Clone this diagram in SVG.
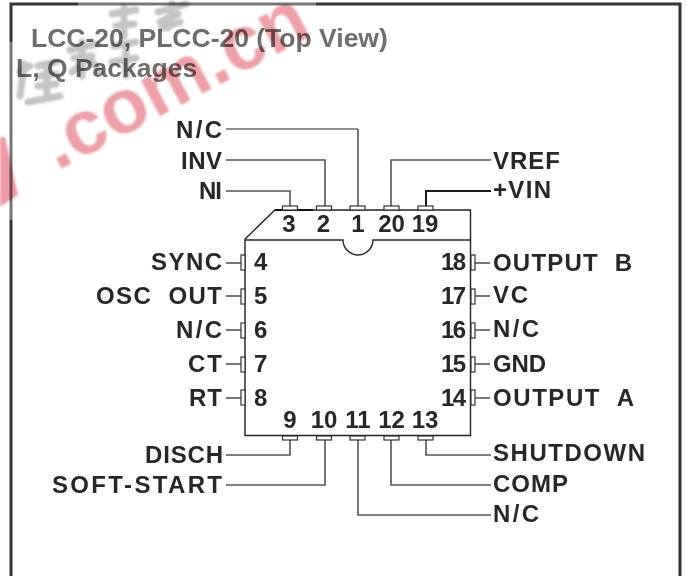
<svg xmlns="http://www.w3.org/2000/svg" width="686" height="576" viewBox="0 0 686 576">
<defs><filter id="soft" x="-10%" y="-10%" width="120%" height="120%"><feGaussianBlur stdDeviation="0.8"/></filter></defs>
<style>
text{font-family:"Liberation Sans",Arial,sans-serif;font-weight:700;fill:#2a2627;white-space:pre}
.l{font-size:24px}
.n{font-size:24px}
.t{font-size:26.5px;fill:#6f6c6c}
.w{fill:none;stroke:#555;stroke-width:1.6}
.p{fill:#fff;stroke:#333;stroke-width:1.2}
.s{fill:none;stroke:#222;stroke-width:1.4}
.e{text-anchor:end}
.m{text-anchor:middle}
.g{fill:none;stroke:#c4c4c4;stroke-width:7;stroke-linecap:round;stroke-linejoin:round}
.wm{mix-blend-mode:multiply}
.mark{font-size:77px;fill:#eea0a8}
</style>
<rect width="686" height="576" fill="#fff"/>
<path d="M11 220V42" fill="none" stroke="#777" stroke-width="3"/>
<path d="M78 4H316" fill="none" stroke="#777" stroke-width="3"/>
<path d="M11 42V4H78M316 4H680V576M11 220V576" fill="none" stroke="#333" stroke-width="3"/>
<text class="t" x="31" y="47">LCC-20, PLCC-20 (Top View)</text>
<text class="t" x="16" y="77">L, Q Packages</text>
<g id="watermark" class="wm">
<g filter="url(#soft)">
<text class="mark" x="57" y="171" transform="rotate(-28 57 171)">.com.cn</text>
<path d="M0 137L5 137L18 195L0 207Z" fill="#ee9aa4"/>
<g class="g">
<path d="M20 72L30 66M24 64L20 96M38 66L56 62M40 76L56 74M38 86L56 84M47 64V98M28 102L60 96"/>
<path d="M70 50L96 44M74 58L92 56M82 42V76M72 72L84 62M92 62L100 72"/>
<path d="M112 14L136 10M116 26L134 24M124 8V36M114 46L136 42M126 44V76M112 62L136 58"/>
<path d="M158 12L186 4M160 22L178 14M172 4L168 28M162 28L180 22"/>
</g>
</g>
</g>
<g id="connectors">
<path class="w" style="stroke:#222;stroke-width:1.2" d="M226 129H358"/>
<path class="w" d="M358 129V206"/>
<path class="w" d="M226 160H325V206"/>
<path class="w" d="M226 191H290V206"/>
<path class="w" d="M491 160H391V206"/>
<path class="w" d="M491 191H426V206" style="stroke:#1a1a1a;stroke-width:2"/>
<path class="w" d="M226 263H241"/><path class="w" d="M226 296H241"/><path class="w" d="M226 330H241"/><path class="w" d="M226 364H241"/><path class="w" d="M226 398H241"/>
<path class="w" d="M475 263H490"/><path class="w" d="M475 296H490"/><path class="w" d="M475 330H490"/><path class="w" d="M475 364H490"/><path class="w" d="M475 398H490"/>
<path class="w" d="M226 455H290V440"/>
<path class="w" d="M226 485H325V440"/>
<path class="w" d="M491 515H358V440"/>
<path class="w" d="M491 485H391V440"/>
<path class="w" d="M491 455H426V440"/>
</g>
<g id="chip">
<path class="s" d="M275 210H470.500V435.500H245V239Z"/>
<path d="M275 210H313" fill="none" stroke="#111" stroke-width="2"/>
<path class="s" d="M245 240H343A15 15 0 0 0 373 240H470"/>
</g>
<g id="pin-3"><rect class="p" x="282.500" y="206" width="15" height="4"/><text class="n m" x="289" y="232">3</text></g>
<g id="pin-2"><rect class="p" x="316.500" y="206" width="15" height="4"/><text class="n m" x="323.500" y="232">2</text></g>
<g id="pin-1"><rect class="p" x="350" y="206" width="15" height="4"/><text class="n m" x="358" y="232">1</text></g>
<g id="pin-20"><rect class="p" x="384" y="206" width="15" height="4"/><text class="n m" x="391.500" y="232">20</text></g>
<g id="pin-19"><rect class="p" x="418" y="206" width="15" height="4"/><text class="n m" x="425" y="232">19</text></g>
<g id="pin-4"><rect class="p" x="241" y="255" width="4" height="15"/><text class="n" x="254" y="270">4</text><text class="l e" x="222" y="270" textLength="71">SYNC</text></g>
<g id="pin-5"><rect class="p" x="241" y="289" width="4" height="15"/><text class="n" x="254" y="304">5</text><text class="l e" x="222" y="304" textLength="126" xml:space="preserve">OSC  OUT</text></g>
<g id="pin-6"><rect class="p" x="241" y="323" width="4" height="15"/><text class="n" x="254" y="338">6</text><text class="l e" x="222" y="338" textLength="46">N/C</text></g>
<g id="pin-7"><rect class="p" x="241" y="357" width="4" height="15"/><text class="n" x="254" y="372">7</text><text class="l e" x="222" y="372" textLength="34">CT</text></g>
<g id="pin-8"><rect class="p" x="241" y="390" width="4" height="15"/><text class="n" x="254" y="406">8</text><text class="l e" x="222" y="406" textLength="33">RT</text></g>
<g id="pin-18"><rect class="p" x="471" y="255" width="4" height="15"/><text class="n e" x="466" y="270" textLength="25">18</text><text class="l" x="493" y="271" textLength="139" xml:space="preserve">OUTPUT  B</text></g>
<g id="pin-17"><rect class="p" x="471" y="289" width="4" height="15"/><text class="n e" x="466" y="304" textLength="25">17</text><text class="l" x="493" y="303" textLength="35">VC</text></g>
<g id="pin-16"><rect class="p" x="471" y="323" width="4" height="15"/><text class="n e" x="466" y="338" textLength="25">16</text><text class="l" x="493" y="337" textLength="46">N/C</text></g>
<g id="pin-15"><rect class="p" x="471" y="357" width="4" height="15"/><text class="n e" x="466" y="372" textLength="25">15</text><text class="l" x="493" y="372" textLength="53">GND</text></g>
<g id="pin-14"><rect class="p" x="471" y="390" width="4" height="15"/><text class="n e" x="466" y="406" textLength="25">14</text><text class="l" x="493" y="406" textLength="141" xml:space="preserve">OUTPUT  A</text></g>
<g id="pin-9"><rect class="p" x="282.500" y="436" width="15" height="4"/><text class="n m" x="290" y="428">9</text></g>
<g id="pin-10"><rect class="p" x="316.500" y="436" width="15" height="4"/><text class="n m" x="324" y="428">10</text></g>
<g id="pin-11"><rect class="p" x="350" y="436" width="15" height="4"/><text class="n m" x="358" y="428">11</text></g>
<g id="pin-12"><rect class="p" x="384" y="436" width="15" height="4"/><text class="n m" x="391.500" y="428">12</text></g>
<g id="pin-13"><rect class="p" x="418" y="436" width="15" height="4"/><text class="n m" x="425" y="428">13</text></g>
<g id="labels">
<text class="l e" x="222" y="138" textLength="46">N/C</text>
<text class="l e" x="222" y="169" textLength="41">INV</text>
<text class="l e" x="222" y="199" textLength="23">NI</text>
<text class="l" x="493" y="169" textLength="67">VREF</text>
<text class="l" x="493" y="198" textLength="58">+VIN</text>
<text class="l e" x="223" y="463" textLength="78">DISCH</text>
<text class="l e" x="222" y="493" textLength="170">SOFT-START</text>
<text class="l" x="493" y="461" textLength="152">SHUTDOWN</text>
<text class="l" x="493" y="492" textLength="75">COMP</text>
<text class="l" x="493" y="522" textLength="46">N/C</text>
</g>
</svg>
